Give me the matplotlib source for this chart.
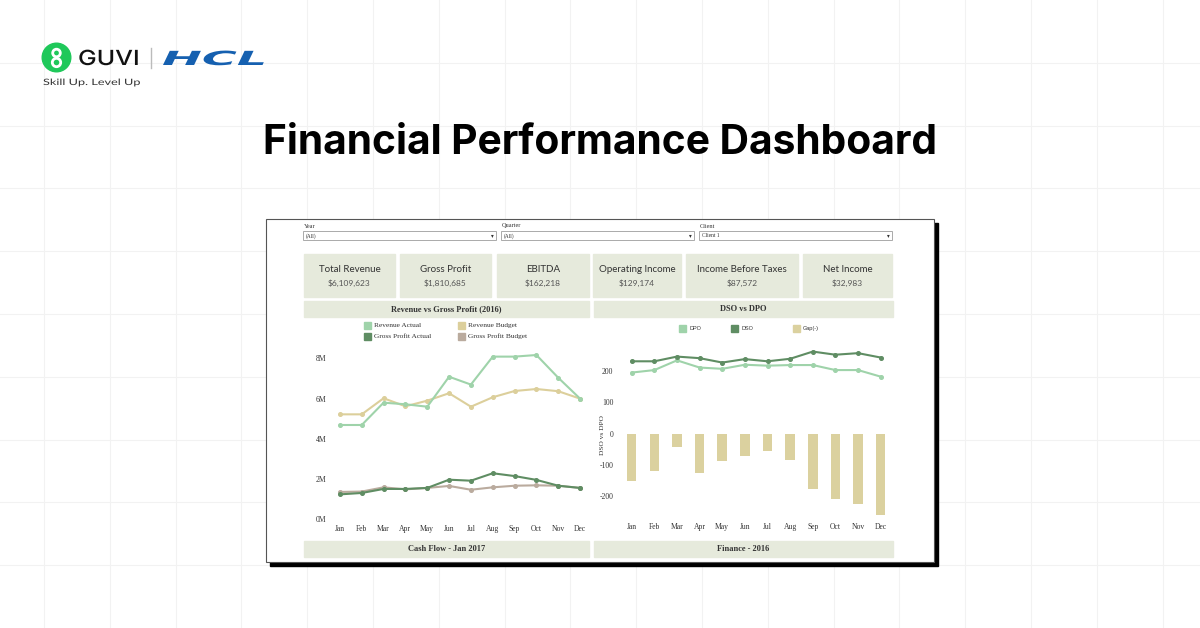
import matplotlib
matplotlib.use('Agg')
import matplotlib.pyplot as plt
import matplotlib.patheffects as pe
from matplotlib.patches import Rectangle, Circle
from matplotlib.transforms import Affine2D

plt.rcParams['axes.unicode_minus'] = False

W, H = 1200, 628

months = ['Jan', 'Feb', 'Mar', 'Apr', 'May', 'Jun',
          'Jul', 'Aug', 'Sep', 'Oct', 'Nov', 'Dec']

# Revenue vs Gross Profit (2016), millions
revenue_actual = [4.69, 4.69, 5.80, 5.72, 5.60, 7.09, 6.70, 8.09, 8.09, 8.17, 7.04, 6.00]
revenue_budget = [5.22, 5.22, 6.02, 5.62, 5.90, 6.27, 5.60, 6.07, 6.38, 6.48, 6.37, 6.00]
gp_actual = [1.24, 1.31, 1.51, 1.51, 1.56, 1.97, 1.92, 2.29, 2.15, 1.96, 1.67, 1.56]
gp_budget = [1.36, 1.38, 1.59, 1.49, 1.56, 1.66, 1.47, 1.59, 1.67, 1.69, 1.67, 1.56]

# DSO vs DPO
dso = [231, 231, 246, 241, 227, 238, 231, 239, 262, 252, 257, 243]
dpo = [195, 203, 234, 211, 207, 220, 217, 219, 219, 203, 203, 182]
gap = [-151, -119, -42, -124, -86, -70, -56, -85, -177, -208, -225, -258]

filter_labels = ['Year', 'Quarter', 'Client']
filter_values = ['(All)', '(All)', 'Client 1']

kpi_names = ['Total Revenue', 'Gross Profit', 'EBITDA', 'Operating Income',
             'Income Before Taxes', 'Net Income']
kpi_values = ['$6,109,623', '$1,810,685', '$162,218', '$129,174',
              '$87,572', '$32,983']

SAGE = '#e6eadc'
C_REV_ACT = '#9fd3aa'
C_GP_ACT = '#5f8d63'
C_REV_BUD = '#dccf9b'
C_GP_BUD = '#baab9e'
C_GAP = '#dbd19f'
SERIF = 'Liberation Serif'
SANS = 'Lato'


class Stretch(pe.AbstractPathEffect):
    """widen glyphs horizontally around x0 (display pixels)"""

    def __init__(self, sx, x0):
        super().__init__()
        self.sx = sx
        self.x0 = x0

    def draw_path(self, renderer, gc, tpath, affine, rgbFace=None):
        affine = affine + Affine2D().translate(-self.x0, 0).scale(self.sx, 1).translate(self.x0, 0)
        renderer.draw_path(gc, tpath, affine, rgbFace)


fig = plt.figure(figsize=(12, 6.28), dpi=100)
fig.patch.set_facecolor('white')

bg = fig.add_axes([0, 0, 1, 1])
bg.set_xlim(0, W)
bg.set_ylim(H, 0)
bg.axis('off')


def frame_axes(x0, y0, x1, y1):
    return fig.add_axes([x0 / W, 1 - y1 / H, (x1 - x0) / W, (y1 - y0) / H])


# background grid
for k in range(18):
    bg.axvline(44 + 65.8 * k, color='#f2f2f2', lw=0.8, zorder=0)
for k in range(1, 10):
    bg.axhline(62.8 * k, color='#f2f2f2', lw=0.8, zorder=0)

# logo
bg.add_patch(Circle((56.5, 57.5), 14.3, color='#1fc85a', zorder=2))
bg.add_patch(Circle((56.5, 53), 3.8, fill=False, ec='white', lw=2, zorder=3))
bg.add_patch(Circle((56.5, 62.5), 4.2, fill=False, ec='white', lw=2, zorder=3))
bg.text(78, 65, 'GUVI', fontsize=15, family='Inter', weight='medium',
        color='#111111', va='baseline', zorder=3,
        path_effects=[Stretch(1.2, 78)])
bg.plot([151, 151], [48, 68], color='#bbbbbb', lw=1, zorder=3)
bg.text(162, 65, 'HCL', fontsize=14, family='DejaVu Sans', weight='heavy',
        style='italic', color='#1560b0', va='baseline', zorder=3,
        path_effects=[Stretch(2.45, 162)])
bg.text(43, 82.5, 'Skill Up. Level Up', fontsize=6.3, family=SANS,
        color='#333333', va='center', zorder=3,
        path_effects=[Stretch(1.45, 43)])

# title
bg.text(600, 154, 'Financial Performance Dashboard', fontsize=29.3,
        family='Inter', weight='bold', color='black', ha='center',
        va='baseline', zorder=3)

# dashboard frame with shadow
bg.add_patch(Rectangle((270, 223), 668, 343, color='black', zorder=2))
bg.add_patch(Rectangle((266, 219), 668, 343, fc='white', ec='#555555',
                       lw=0.8, zorder=2))

# filters
for i, (lab, val) in enumerate(zip(filter_labels, filter_values)):
    x0 = 303 + 198 * i
    bg.text(x0 + 1, 226, lab, family=SERIF, fontsize=4.5, color='#333333',
            va='center', zorder=3)
    bg.add_patch(Rectangle((x0, 231), 193, 9, fc='white', ec='#aaaaaa',
                           lw=0.7, zorder=3))
    bg.text(x0 + 3, 235.7, val, family=SERIF, fontsize=4, color='#333333',
            va='center', zorder=4)
    bg.text(x0 + 189, 236, '▾', family='DejaVu Sans', fontsize=4,
            color='#333333', ha='center', va='center', zorder=4)

# KPI cards
card_edges = [(304, 395), (400, 491), (497, 589), (593, 681), (686, 798), (803, 892)]
for (x0, x1), name, val in zip(card_edges, kpi_names, kpi_values):
    bg.add_patch(Rectangle((x0, 254), x1 - x0, 43, color=SAGE, zorder=3))
    xc = (x0 + x1) / 2
    bg.text(xc, 270, name, family=SANS, fontsize=7, color='#333333',
            ha='center', va='center', zorder=4)
    bg.text(xc, 283, val, family=SANS, fontsize=6, color='#555555',
            ha='center', va='center', zorder=4)

# section headers
headers = [((304, 589, 301), 'Revenue vs Gross Profit (2016)'),
           ((594, 893, 301), 'DSO vs DPO'),
           ((304, 589, 541), 'Cash Flow - Jan 2017'),
           ((594, 893, 541), 'Finance - 2016')]
for (x0, x1, y0), txt in headers:
    bg.add_patch(Rectangle((x0, y0), x1 - x0, 15.5, color=SAGE, zorder=3))
    bg.text((x0 + x1) / 2, y0 + 8, txt, family=SERIF, weight='bold',
            fontsize=6, color='#333333', ha='center', va='center', zorder=4)

# left legend
left_leg = [(364, 325.5, C_REV_ACT, 'Revenue Actual'),
            (364, 336.5, C_GP_ACT, 'Gross Profit Actual'),
            (458, 325.5, C_REV_BUD, 'Revenue Budget'),
            (458, 336.5, C_GP_BUD, 'Gross Profit Budget')]
for x, y, c, lab in left_leg:
    bg.add_patch(Rectangle((x, y - 3.3), 6.5, 6.5, color=c, zorder=4))
    bg.text(x + 10, y, lab, family=SERIF, fontsize=5.3, color='#333333',
            va='center', zorder=4)

# right legend
right_leg = [(679, C_REV_ACT, 'DPO'), (731, C_GP_ACT, 'DSO'), (793, C_GAP, 'Gap(-)')]
for x, c, lab in right_leg:
    bg.add_patch(Rectangle((x, 325), 6.5, 6.5, color=c, zorder=4))
    bg.text(x + 10, 328.3, lab, family='Liberation Sans', fontsize=4,
            color='#333333', va='center', zorder=4)

xs = range(len(months))

# Revenue vs Gross Profit chart
ax1 = frame_axes(329, 352, 591, 522)
ax1.plot(xs, revenue_budget, color=C_REV_BUD, lw=1.5, marker='o', ms=2.6)
ax1.plot(xs, revenue_actual, color=C_REV_ACT, lw=1.5, marker='o', ms=2.6)
ax1.plot(xs, gp_budget, color=C_GP_BUD, lw=1.5, marker='o', ms=2.6)
ax1.plot(xs, gp_actual, color=C_GP_ACT, lw=1.5, marker='o', ms=2.6)
ax1.set_xlim(-0.5, 11.5)
ax1.set_ylim(-0.134, 8.32)
ax1.set_yticks([0, 2, 4, 6, 8])
ax1.set_yticklabels(['0M', '2M', '4M', '6M', '8M'])

# DSO vs DPO chart
ax2 = frame_axes(620.4, 345, 892, 520)
ax2.bar(xs, gap, width=0.42, color=C_GAP)
ax2.plot(xs, dpo, color=C_REV_ACT, lw=1.5, marker='o', ms=2.6)
ax2.plot(xs, dso, color=C_GP_ACT, lw=1.5, marker='o', ms=2.6)
ax2.set_xlim(-0.5, 11.5)
ax2.set_ylim(-275.5, 283)
ax2.set_yticks([-200, -100, 0, 100, 200])

for ax in (ax1, ax2):
    ax.patch.set_alpha(0)
    ax.set_xticks(list(xs))
    ax.set_xticklabels(months)
    ax.tick_params(length=0, labelsize=5.5, pad=2, colors='#333333')
    for lab in ax.get_xticklabels() + ax.get_yticklabels():
        lab.set_family(SERIF)
    for s in ax.spines.values():
        s.set_visible(False)

ax2.tick_params(axis='y', pad=5)
ax2.set_ylabel('DSO vs DPO', family=SERIF, fontsize=5.3, color='#333333')
ax2.yaxis.set_label_coords(-0.057, 0.486)

fig.savefig('out.png', dpi=100)
